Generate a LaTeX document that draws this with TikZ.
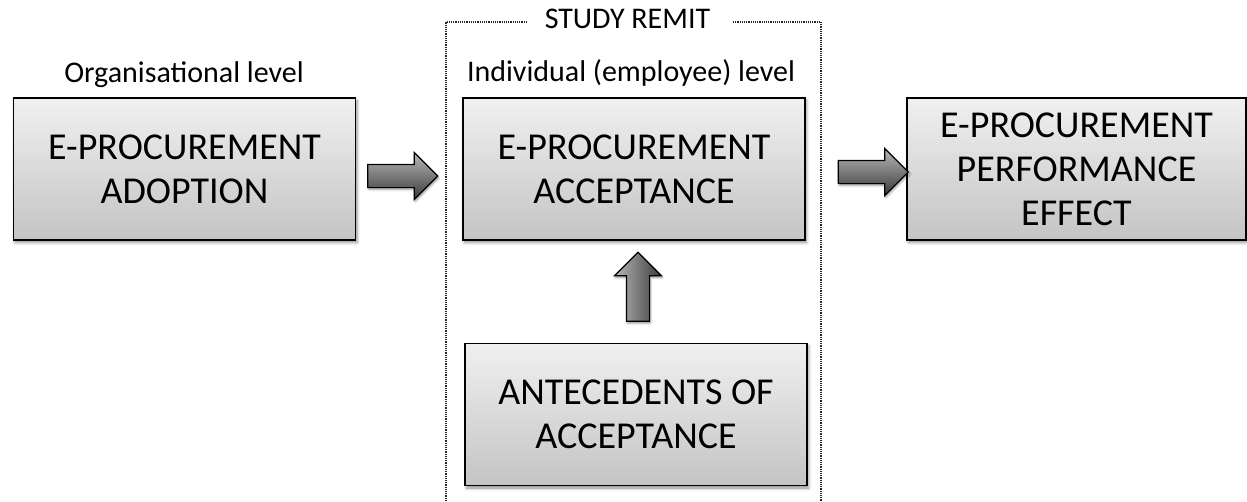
\documentclass[tikz,border=0pt]{standalone}
\usepackage{fontspec}
\setmainfont{Carlito}
\usetikzlibrary{shapes.arrows,shadows.blur,calc}
\definecolor{boxtop}{HTML}{F0F0F0}
\definecolor{boxbot}{HTML}{C4C4C4}
\definecolor{arrtop}{HTML}{B8B8B8}
\definecolor{arrbot}{HTML}{3A3A3A}
\begin{document}
\begin{tikzpicture}[x=1pt,y=-1pt,
 box/.style={draw=black, line width=1.6pt, top color=boxtop, bottom color=boxbot,
   minimum width=342pt, minimum height=142pt, align=center, inner sep=0pt,
   font=\fontsize{38}{44}\selectfont,
   blur shadow={shadow xshift=1.5pt, shadow yshift=-2.5pt, shadow blur radius=3pt, shadow opacity=45}},
 blockarrow/.style={single arrow, draw=black, line width=1.2pt, top color=arrtop, bottom color=arrbot,
   inner sep=11pt, single arrow head extend=12pt, minimum height=70pt, single arrow tip angle=90,
   blur shadow={shadow xshift=1pt, shadow yshift=-2pt, shadow blur radius=2pt, shadow opacity=40}},
 lbl/.style={font=\fontsize{30}{32}\selectfont, inner sep=0pt},
 dotframe/.style={line width=1.2pt, dash pattern=on 1.2pt off 1pt, black!85}
]
\useasboundingbox (0,0) rectangle (1247,501);

\node[box] (adopt) at (184.5,169) {E-PROCUREMENT\\ADOPTION};
\node[box] (accept) at (634,169) {E-PROCUREMENT\\ACCEPTANCE};
\node[box, minimum width=339pt] (perf) at (1076.5,169) {E-PROCUREMENT\\PERFORMANCE\\EFFECT};
\node[box] (ante) at (636,414.5) {ANTECEDENTS OF\\ACCEPTANCE};

\node[blockarrow] (arr1) at (397,176) {};
\node[blockarrow] (arr2) at (867.5,172) {};
\node[blockarrow, rotate=90, minimum height=69pt, left color=arrtop, right color=arrbot] (arr3) at (638,292.5) {};

\node[lbl, anchor=base] (orglvl) at (184,82) {Organisational level};
\node[lbl, anchor=base] (indlvl) at (631,81) {Individual (employee) level};
\node[lbl, anchor=base] (remit) at (627.5,28) {STUDY REMIT};

\coordinate (fbl) at (446,501);
\coordinate (ftl) at (446,22);
\coordinate (fgl) at (527,22);
\coordinate (fgr) at (733,22);
\coordinate (ftr) at (821,22);
\coordinate (fbr) at (821,501);
\draw[dotframe] (fbl) -- (ftl) -- (fgl);
\draw[dotframe] (fgr) -- (ftr) -- (fbr);
\end{tikzpicture}
\end{document}
